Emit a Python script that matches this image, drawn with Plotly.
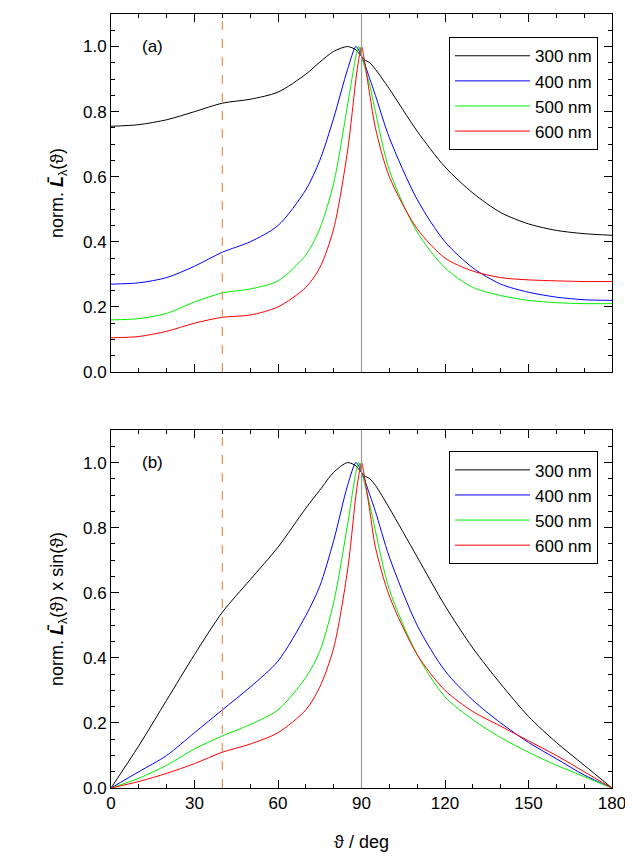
import plotly.graph_objects as go
from plotly.subplots import make_subplots

# angles (deg) and read-off values
ang = [0, 10, 20, 30, 40, 50, 60, 70, 75, 80, 85, 88, 89, 90, 91, 93, 95, 100, 110, 120, 130, 140, 150, 160, 170, 180]

top_300 = [0.755, 0.76, 0.775, 0.80, 0.826, 0.838, 0.86, 0.915, 0.952, 0.985, 1.0, 0.99, 0.98, 0.97, 0.96, 0.95, 0.93, 0.87, 0.74, 0.63, 0.55, 0.49, 0.455, 0.435, 0.425, 0.42]
top_400 = [0.27, 0.274, 0.29, 0.325, 0.368, 0.40, 0.45, 0.56, 0.65, 0.78, 0.93, 1.0, 0.99, 0.97, 0.95, 0.90, 0.85, 0.72, 0.53, 0.40, 0.32, 0.27, 0.245, 0.23, 0.222, 0.22]
top_500 = [0.16, 0.164, 0.18, 0.215, 0.243, 0.255, 0.28, 0.36, 0.44, 0.58, 0.82, 0.97, 1.0, 0.97, 0.94, 0.88, 0.80, 0.62, 0.43, 0.32, 0.26, 0.235, 0.22, 0.213, 0.21, 0.21]
top_600 = [0.105, 0.109, 0.125, 0.15, 0.168, 0.175, 0.20, 0.26, 0.32, 0.44, 0.68, 0.90, 0.96, 1.0, 0.96, 0.85, 0.75, 0.60, 0.44, 0.35, 0.31, 0.29, 0.283, 0.28, 0.278, 0.278]

bot_300 = [0.0, 0.13, 0.27, 0.41, 0.54, 0.64, 0.74, 0.86, 0.915, 0.97, 1.0, 0.99, 0.98, 0.97, 0.96, 0.95, 0.93, 0.86, 0.71, 0.56, 0.43, 0.32, 0.22, 0.14, 0.07, 0.0]
bot_400 = [0.0, 0.05, 0.10, 0.17, 0.24, 0.31, 0.39, 0.53, 0.62, 0.76, 0.93, 1.0, 0.99, 0.97, 0.95, 0.90, 0.85, 0.71, 0.50, 0.36, 0.27, 0.20, 0.14, 0.09, 0.04, 0.0]
bot_500 = [0.0, 0.03, 0.07, 0.12, 0.16, 0.195, 0.24, 0.34, 0.42, 0.57, 0.81, 0.97, 1.0, 0.97, 0.94, 0.87, 0.79, 0.61, 0.41, 0.28, 0.21, 0.155, 0.11, 0.07, 0.035, 0.0]
bot_600 = [0.0, 0.02, 0.045, 0.075, 0.11, 0.135, 0.17, 0.24, 0.31, 0.43, 0.67, 0.90, 0.96, 1.0, 0.96, 0.85, 0.74, 0.59, 0.41, 0.30, 0.235, 0.19, 0.145, 0.10, 0.05, 0.0]

names = ["300 nm", "400 nm", "500 nm", "600 nm"]
colors = ["black", "#0000ff", "#00ee00", "#ff0000"]

fig = make_subplots(rows=2, cols=1, shared_xaxes=False, vertical_spacing=0.075)

for i, ys in enumerate([top_300, top_400, top_500, top_600]):
    fig.add_trace(go.Scatter(x=ang, y=ys, mode="lines", name=names[i], line=dict(color=colors[i], width=1, shape="spline", smoothing=0.8), legend="legend"), row=1, col=1)
for i, ys in enumerate([bot_300, bot_400, bot_500, bot_600]):
    fig.add_trace(go.Scatter(x=ang, y=ys, mode="lines", name=names[i], line=dict(color=colors[i], width=1, shape="spline", smoothing=0.8), legend="legend2"), row=2, col=1)

for r in [1, 2]:
    fig.add_vline(x=40, line=dict(color="#e8915a", width=1.2, dash="dash"), row=r, col=1)
    fig.add_vline(x=90, line=dict(color="#999999", width=1.2), row=r, col=1)

axis_style = dict(showline=True, linecolor="black", linewidth=1, mirror="ticks", ticks="inside",
                  ticklen=8, tickcolor="black", showgrid=False, zeroline=False, automargin=False,
                  tickfont=dict(size=17, color="black"))
fig.update_xaxes(range=[0, 180], tick0=0, dtick=30, minor=dict(ticks="inside", ticklen=4, dtick=10, tickcolor="black"), **axis_style)
fig.update_yaxes(range=[0, 1.1], tick0=0, dtick=0.2, tickformat=".1f", minor=dict(ticks="inside", ticklen=4, dtick=0.05, tickcolor="black"), **axis_style)
fig.update_xaxes(showticklabels=False, row=1, col=1)
fig.update_xaxes(title=dict(text="ϑ / deg", font=dict(size=18, color="black"), standoff=22), row=2, col=1)
fig.update_yaxes(title=dict(text="norm. <b><i>L̄</i></b><sub>λ</sub>(ϑ)", font=dict(size=18, color="black"), standoff=14), row=1, col=1)
fig.update_yaxes(title=dict(text="norm. <b><i>L̄</i></b><sub>λ</sub>(ϑ) x sin(ϑ)", font=dict(size=18, color="black"), standoff=14), row=2, col=1)

fig.add_annotation(text="(a)", x=10.5, y=1.0, xref="x", yref="y", showarrow=False, font=dict(size=17, color="black"), xanchor="left", yanchor="middle")
fig.add_annotation(text="(b)", x=10.5, y=1.0, xref="x2", yref="y2", showarrow=False, font=dict(size=17, color="black"), xanchor="left", yanchor="middle")

leg = dict(xanchor="right", yanchor="top", bordercolor="black", borderwidth=1, bgcolor="white",
           font=dict(size=17, color="black"), tracegroupgap=0, itemwidth=75)
fig.update_layout(
    width=625, height=860,
    margin=dict(l=103, r=21, t=6, b=80),
    plot_bgcolor="white", paper_bgcolor="white",
    font=dict(family="Liberation Sans, Arial, sans-serif"),
    legend=dict(x=0.972, y=0.97, **leg),
    legend2=dict(x=0.972, y=0.435, **leg),
)
fig.layout.yaxis.domain = [0.5375, 1.0]
fig.layout.yaxis2.domain = [0.0, 0.4625]

fig.write_html("out.html")
